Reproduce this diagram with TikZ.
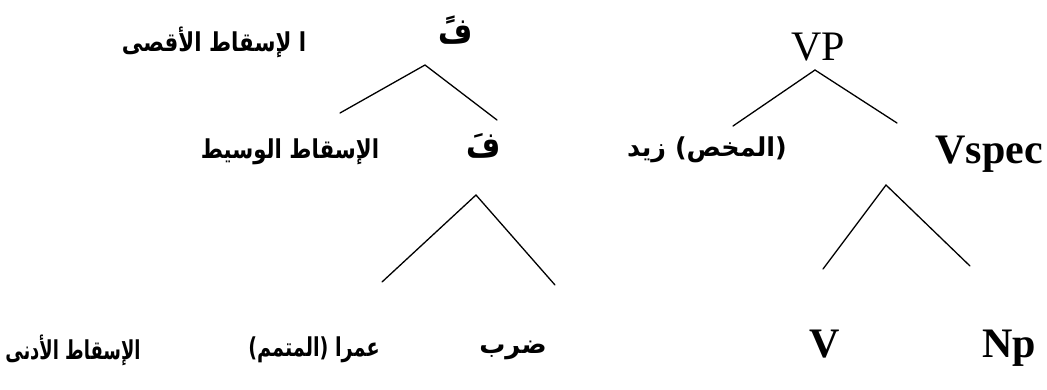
\documentclass[tikz,border=0pt]{standalone}
\usepackage{graphicx}
\usepackage{fontspec}
\setmainfont{Liberation Serif}
\newfontfamily\arabicfont[Script=Arabic]{DejaVu Sans}
\TeXXeTstate=1
\newcommand{\artext}[2][0.82]{\scalebox{#1}[1]{\beginR #2\endR}}

\begin{document}
\begin{tikzpicture}[x=1pt, y=-1pt,
    ar/.style={inner sep=0pt, font=\arabicfont\bfseries\fontsize{26}{30}\selectfont},
    arbig/.style={ar, font=\arabicfont\bfseries\fontsize{36}{40}\selectfont},
    lat/.style={inner sep=0pt, anchor=base, font=\fontsize{42}{48}\selectfont},
    latb/.style={lat, font=\bfseries\fontsize{42}{48}\selectfont},
    branch/.style={line width=1.3pt, line cap=round}]
    \useasboundingbox (0,0) rectangle (1047,389);

    % Draw nodes
    \node[arbig] (fmax) at (456,30) {\artext{فً}};
    \node[ar] (amax) at (214,42) {\artext{ا لإسقاط الأقصى}};
    \node[arbig] (fbar) at (484,146) {\artext{فَ}};
    \node[ar] (abar) at (290,152) {\artext{الإسقاط الوسيط}};
    \node[ar] (amin) at (73,350) {\artext[0.69]{الإسقاط الأدنى}};
    \node[ar] (comp) at (314,350) {\artext[0.74]{عمرا (المتمم)}};
    \node[ar] (verb) at (513,350) {\artext[1]{ضرب}};

    \node[lat] (VP) at (818,60) {VP};
    \node[ar] (spec) at (707,150) {\artext[0.98]{(المخص) زيد}};
    \node[latb] (vspec) at (989,163) {Vspec};
    \node[latb] (V) at (825,357) {V};
    \node[latb] (Np) at (1009,357) {Np};

    % Branch points
    \coordinate (fmax-top) at (425,65);
    \coordinate (fmax-l) at (340,113);
    \coordinate (fmax-r) at (497,120);
    \coordinate (fbar-top) at (476,195);
    \coordinate (fbar-l) at (382,282);
    \coordinate (fbar-r) at (555,285);
    \coordinate (VP-top) at (815,70);
    \coordinate (VP-l) at (733,126);
    \coordinate (VP-r) at (897,123);
    \coordinate (vspec-top) at (886,185);
    \coordinate (vspec-l) at (823,269);
    \coordinate (vspec-r) at (970,266);

    % Draw connections
    \draw[branch] (fmax-l) -- (fmax-top) -- (fmax-r);
    \draw[branch] (fbar-l) -- (fbar-top) -- (fbar-r);
    \draw[branch] (VP-l) -- (VP-top) -- (VP-r);
    \draw[branch] (vspec-l) -- (vspec-top) -- (vspec-r);
\end{tikzpicture}
\end{document}
